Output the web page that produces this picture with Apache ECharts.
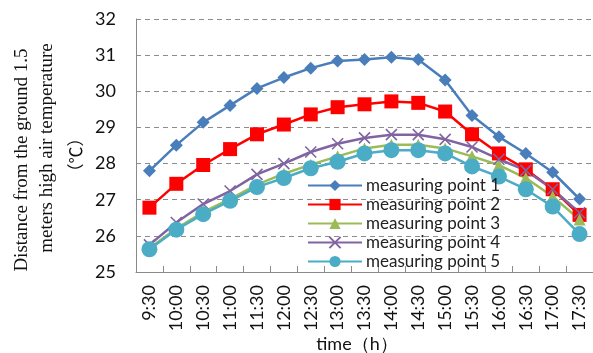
<!DOCTYPE html>
<html>
<head>
<meta charset="utf-8">
<script src="https://cdn.jsdelivr.net/npm/echarts@6/dist/echarts.min.js"></script>
<style>html,body{margin:0;padding:0;background:#fff;}#c{width:593px;height:353px;}</style>
</head>
<body>
<div id="c"></div>
<script>
const categories = ['9:30','10:00','10:30','11:00','11:30','12:00','12:30','13:00','13:30','14:00','14:30','15:00','15:30','16:00','16:30','17:00','17:30'];
const point1 = [27.80,28.51,29.14,29.61,30.08,30.38,30.64,30.84,30.88,30.94,30.88,30.31,29.33,28.74,28.28,27.76,27.02];
const point2 = [26.78,27.44,27.96,28.40,28.81,29.08,29.36,29.56,29.64,29.72,29.68,29.44,28.81,28.28,27.84,27.29,26.58];
const point3 = [25.66,26.20,26.66,27.02,27.42,27.72,27.97,28.20,28.42,28.52,28.52,28.42,28.20,27.96,27.60,27.09,26.45];
const point4 = [25.75,26.37,26.88,27.24,27.70,28.00,28.32,28.55,28.71,28.80,28.80,28.67,28.46,28.12,27.81,27.29,26.64];
const point5 = [25.63,26.17,26.60,26.97,27.35,27.60,27.87,28.05,28.28,28.37,28.37,28.28,27.92,27.64,27.29,26.81,26.05];
const seriesNames = ['measuring point 1','measuring point 2','measuring point 3','measuring point 4','measuring point 5'];
const yTicks = {min:25, max:32, interval:1};

const chart = echarts.init(document.getElementById('c'));
const mk = (name, data, color, symbol, size, extra) => Object.assign({
  name, type:'line', data, symbol, symbolSize:size, showSymbol:true,
  lineStyle:{color, width:2.5},
  itemStyle:{color, borderColor:color, borderWidth:0},
  emphasis:{disabled:true}, animation:false
}, extra||{});
const xPath = 'path://M0,0L10,10M10,0L0,10';
chart.setOption({
  animation:false,
  grid:{left:136, right:0, top:19, bottom:81, containLabel:false},
  legend:{
    orient:'vertical', left:302, top:172, itemWidth:54, itemHeight:14, itemGap:2,
    textStyle:{fontFamily:'Lato', fontSize:17, color:'#222', padding:[0,0,0,-1]},
    data: seriesNames
  },
  xAxis:{
    type:'category', data:categories, boundaryGap:true,
    axisLine:{lineStyle:{color:'#8a8a8a', width:1}},
    axisTick:{show:true, inside:true, length:6, lineStyle:{color:'#8a8a8a'}},
    axisLabel:{rotate:90, fontFamily:'Lato', fontSize:18, color:'#111', margin:13, interval:0}
  },
  yAxis:{
    type:'value', min:yTicks.min, max:yTicks.max, interval:yTicks.interval,
    axisLine:{show:true, lineStyle:{color:'#8a8a8a', width:1}},
    axisTick:{show:false},
    splitLine:{lineStyle:{color:'#8c8c8c', type:[5,4], width:1}},
    axisLabel:{fontFamily:'Lato', fontSize:18, color:'#111', margin:20}
  },
  graphic:[
    {type:'text', x:22, y:160, rotation:Math.PI/2, style:{text:'Distance from the ground 1.5', fontFamily:'Liberation Serif', fontSize:19, fill:'#111', textAlign:'center', textVerticalAlign:'middle'}},
    {type:'text', x:47, y:148, rotation:Math.PI/2, style:{text:'meters high air temperature', fontFamily:'Liberation Serif', fontSize:19, fill:'#111', textAlign:'center', textVerticalAlign:'middle'}},
    {type:'text', x:76, y:155, rotation:Math.PI/2, style:{text:'（℃）', fontFamily:'Noto Sans CJK SC', fontSize:17, fill:'#111', textAlign:'center', textVerticalAlign:'middle'}},
    {type:'text', x:357, y:344, style:{text:'time（h）', fontFamily:'Lato', fontSize:18, fill:'#111', textAlign:'center', textVerticalAlign:'middle'}}
  ],
  series:[
    mk(seriesNames[0], point1, '#4A7EBB', 'diamond', 13),
    mk(seriesNames[1], point2, '#FF0000', 'rect', 14),
    mk(seriesNames[2], point3, '#9BBB59', 'triangle', 12),
    mk(seriesNames[3], point4, '#8064A2', xPath, 11, {itemStyle:{color:'#8064A2', borderColor:'#8064A2', borderWidth:1.6}}),
    mk(seriesNames[4], point5, '#4BACC6', 'circle', 16)
  ]
});
</script>
</body>
</html>
